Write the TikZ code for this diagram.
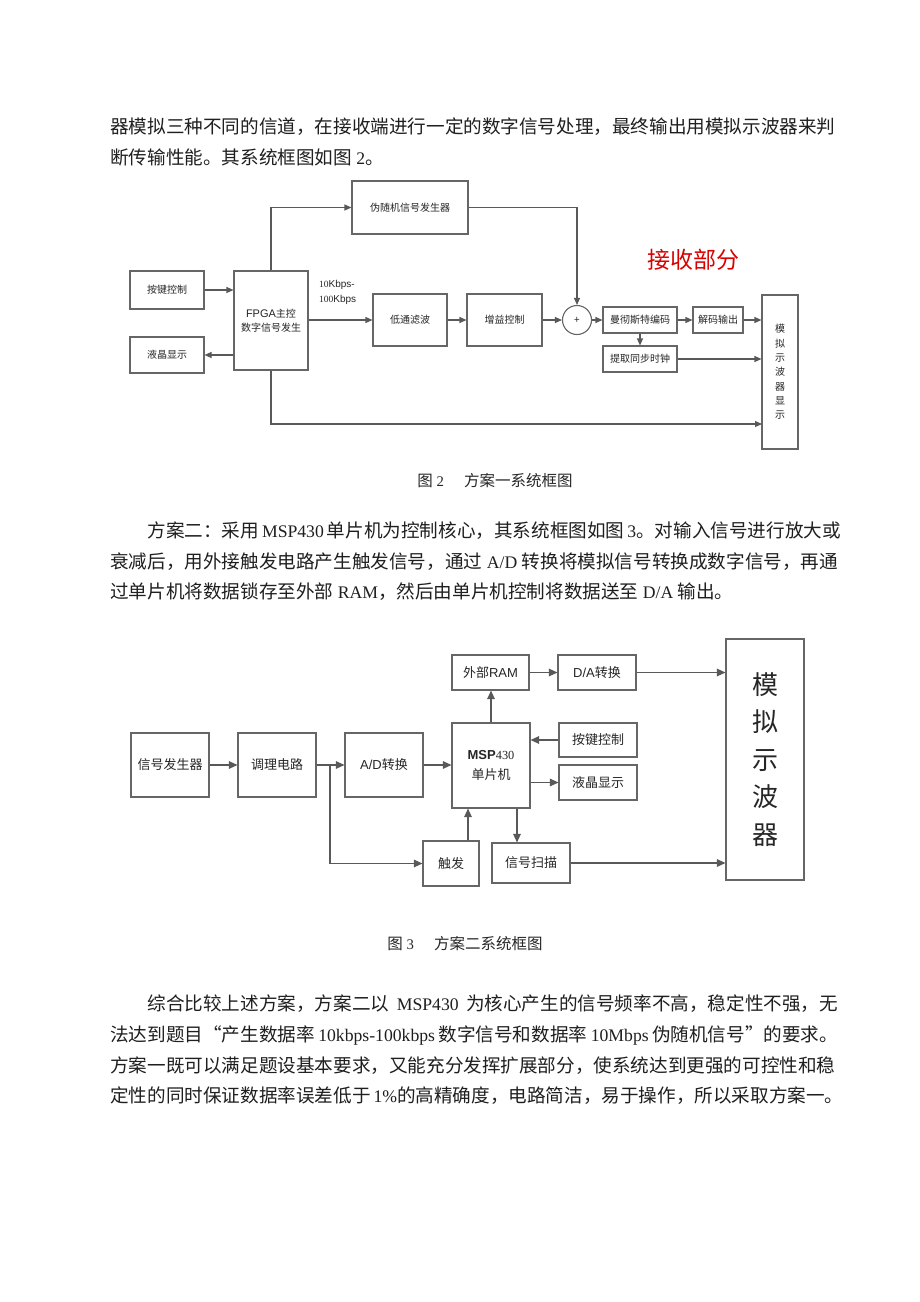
\documentclass[tikz,border=0pt]{standalone}
\usepackage{fontspec}
\setmainfont{Noto Sans CJK SC}
\newfontfamily\ser[Scale=0.95]{Liberation Serif}
\newfontfamily\ari{Liberation Sans}
\usetikzlibrary{arrows.meta}
\XeTeXlinebreaklocale "zh"
\XeTeXlinebreakskip=0pt plus 4pt minus 0.5pt
\begin{document}
\begin{tikzpicture}[x=1pt,y=-1pt,
  body/.style={anchor=west, inner sep=0pt, font=\fontsize{18.6}{22}\selectfont, text=black!88},
  captext/.style={inner sep=0pt, font=\fontsize{15.5}{18}\selectfont, text=black!85},
  box/.style={draw=black!60, line width=1.1pt, fill=white, inner sep=0pt, align=center, text=black!85},
  fa/.style={box, font=\fontsize{10}{14}\selectfont},
  fb/.style={box, font=\fontsize{13}{18}\selectfont},
  arr/.style={draw=black!65, line width=1.1pt, -{Triangle[length=7pt,width=6pt]}},
  arrb/.style={draw=black!65, line width=1.2pt, -{Triangle[length=8.5pt,width=7.5pt]}}]
\useasboundingbox (0,0) rectangle (920,1302);
\fill[white] (0,0) rectangle (920,1302);

% ---- paragraph 1
\node[body] (p1a) at (110,127) {\makebox[728pt][s]{器模拟三种不同的信道，在接收端进行一定的数字信号处理，最终输出用模拟示波器来判}};
\node[body] (p1b) at (110,157) {断传输性能。其系统框图如图{\ser\ 2}。};

% ---- figure 2
\node[fa, minimum width=116pt, minimum height=53pt] (prng) at (410,207.5) {伪随机信号发生器};
\node[fa, minimum width=74pt, minimum height=38pt] (key1) at (167,290) {按键控制};
\node[fa, minimum width=74pt, minimum height=99pt] (fpga) at (271,320.5) {{\ari\fontsize{11}{15}\selectfont FPGA}主控\\数字信号发生};
\node[fa, minimum width=74pt, minimum height=36pt] (lcd1) at (167,355) {液晶显示};
\node[fa, minimum width=74pt, minimum height=52pt] (lpf) at (410,320) {低通滤波};
\node[fa, minimum width=75pt, minimum height=52pt] (gain) at (504.5,320) {增益控制};
\node[box, circle, minimum size=29pt, font=\fontsize{10}{10}\selectfont] (sum) at (577,320) {+};
\node[fa, minimum width=74pt, minimum height=26pt] (manch) at (640,320) {曼彻斯特编码};
\node[fa, minimum width=50pt, minimum height=26pt] (dec) at (718,320) {解码输出};
\node[fa, minimum width=74pt, minimum height=26pt] (clk) at (640,359) {提取同步时钟};
\node[box, minimum width=36pt, minimum height=154pt, font=\fontsize{10}{14.3}\selectfont] (osc1) at (780,372) {模\\拟\\示\\波\\器\\显\\示};
\node[inner sep=0pt, anchor=north west, align=left, font=\fontsize{10}{15}\selectfont, text=black!85] (rate) at (319,280) {{\ser 10}{\ari Kbps-}\\{\ser 100}{\ari Kbps}};
\node[inner sep=0pt, text=red!85!black, font=\fontsize{23}{26}\selectfont] (recv) at (693,260) {接收部分};

\draw[arr] (fpga.north) |- (prng.west);
\draw[arr] (prng.east) -| (sum.north);
\draw[arr] (key1.east) -- (key1.east -| fpga.west);
\draw[arr] (lcd1.east -| fpga.west) -- (lcd1.east);
\draw[arr] (fpga.east |- lpf.west) -- (lpf.west);
\draw[arr] (lpf.east) -- (gain.west);
\draw[arr] (gain.east) -- (sum.west);
\draw[arr] (sum.east) -- (manch.west);
\draw[arr] (manch.east) -- (dec.west);
\draw[arr] (dec.east) -- (dec.east -| osc1.west);
\draw[arr] (manch.south) -- (clk.north);
\draw[arr] (clk.east) -- (clk.east -| osc1.west);
\coordinate (o1b) at (762,424);
\draw[arr] (fpga.south) |- (o1b);

\node[captext] (cap2) at (495,481) {图{\ser\ 2}\hspace{1.3em}方案一系统框图};

% ---- paragraph 2
\node[body] (p2a) at (147.3,531) {\makebox[690.7pt][s]{方案二：采用{\ser\ MSP430 }单片机为控制核心，其系统框图如图{\ser\ 3}。对输入信号进行放大或}};
\node[body] (p2b) at (110,562) {\makebox[728pt][s]{衰减后，用外接触发电路产生触发信号，通过{\ser\ A/D }转换将模拟信号转换成数字信号，再通}};
\node[body] (p2c) at (110,592) {过单片机将数据锁存至外部{\ser\ RAM}，然后由单片机控制将数据送至{\ser\ D/A }输出。};

% ---- figure 3
\node[fb, minimum width=78pt, minimum height=64pt] (sg) at (170,765) {信号发生器};
\node[fb, minimum width=78pt, minimum height=64pt] (cond) at (277,765) {调理电路};
\node[fb, minimum width=78pt, minimum height=64pt] (adc) at (384,765) {{\ari A/D}转换};
\node[fb, minimum width=78pt, minimum height=85pt, font=\fontsize{13}{19.5}\selectfont] (msp) at (491,765.5) {{\ari\bfseries MSP}{\ser 430}\\单片机};
\node[fb, minimum width=77pt, minimum height=35pt] (ram) at (490.5,672.5) {外部{\ari RAM}};
\node[fb, minimum width=78pt, minimum height=35pt] (dac) at (597,672.5) {{\ari D/A}转换};
\node[fb, minimum width=78pt, minimum height=34pt] (key2) at (598,740) {按键控制};
\node[fb, minimum width=78pt, minimum height=35pt] (lcd2) at (598,782.5) {液晶显示};
\node[fb, minimum width=56pt, minimum height=45pt] (trig) at (451,863.5) {触发};
\node[fb, minimum width=78pt, minimum height=40pt] (scan) at (531,863) {信号扫描};
\node[box, minimum width=78pt, minimum height=241pt, font=\fontsize{26}{37.5}\selectfont] (osc2) at (765,759.5) {模\\拟\\示\\波\\器};

\draw[arrb] (sg.east) -- (cond.west);
\draw[arrb] (cond.east) -- (adc.west);
\draw[arrb] (adc.east) -- (adc.east -| msp.west);
\coordinate (br) at (330,765);
\draw[arrb] (br) |- (trig.west);
\draw[arrb] ([xshift=17pt]trig.north) -- ([xshift=17pt]trig.north |- msp.south);
\draw[arrb] (msp.north) -- (msp.north |- ram.south);
\draw[arrb] (ram.east) -- (dac.west);
\draw[arrb] (dac.east) -- (dac.east -| osc2.west);
\draw[arrb] (key2.west) -- (key2.west -| msp.east);
\draw[arrb] (lcd2.west -| msp.east) -- (lcd2.west);
\draw[arrb] ([xshift=26pt]msp.south) -- ([xshift=26pt]msp.south |- scan.north);
\draw[arrb] (scan.east) -- (scan.east -| osc2.west);

\node[captext] (cap3) at (465,944) {图{\ser\ 3}\hspace{1.3em}方案二系统框图};

% ---- paragraph 3
\node[body] (p3a) at (147.3,1004) {\makebox[690.7pt][s]{综合比较上述方案，方案二以{\ser\ MSP430 }为核心产生的信号频率不高，稳定性不强，无}};
\node[body] (p3b) at (110,1035) {\makebox[728pt][s]{法达到题目“产生数据率{\ser\ 10kbps-100kbps }数字信号和数据率{\ser\ 10Mbps }伪随机信号”的要求。}};
\node[body] (p3c) at (110,1066) {\makebox[728pt][s]{方案一既可以满足题设基本要求，又能充分发挥扩展部分，使系统达到更强的可控性和稳}};
\node[body] (p3d) at (110,1096) {\makebox[728pt][s]{定性的同时保证数据率误差低于{\ser\ 1\%}的高精确度，电路简洁，易于操作，所以采取方案一。}};
\end{tikzpicture}
\end{document}
